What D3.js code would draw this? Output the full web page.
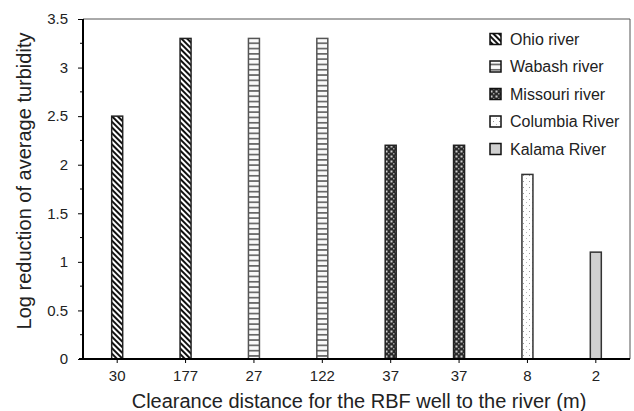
<!DOCTYPE html>
<html><head><meta charset="utf-8">
<script src="https://cdn.jsdelivr.net/npm/d3@7"></script>
<style>body{margin:0;background:#fff}svg{display:block;font-family:"Liberation Sans",Arial,sans-serif}</style>
</head><body><svg id="c" width="634" height="411"></svg>
<script>
const categories = ["30","177","27","122","37","37","8","2"];
const values = [2.5, 3.3, 3.3, 3.3, 2.2, 2.2, 1.9, 1.1];
const rivers = ["Ohio river","Ohio river","Wabash river","Wabash river","Missouri river","Missouri river","Columbia River","Kalama River"];
const legendNames = ["Ohio river","Wabash river","Missouri river","Columbia River","Kalama River"];
const yTicks = [0,0.5,1,1.5,2,2.5,3,3.5];
const yTitle = "Log reduction of average turbidity";
const xTitle = "Clearance distance for the RBF well to the river (m)";

const svg = d3.select("#c");
const m = {l:83, r:630, t:19, b:359};
const x = d3.scaleBand().domain(d3.range(categories.length)).range([m.l, m.r]);
const y = d3.scaleLinear().domain([0,3.5]).range([m.b, m.t]);

const defs = svg.append("defs");
// Ohio diagonal "\"
let p = defs.append("pattern").attr("id","p0").attr("patternUnits","userSpaceOnUse")
  .attr("width",4).attr("height",4).attr("patternTransform","rotate(-45)");
p.append("rect").attr("width",4).attr("height",4).attr("fill","#fff");
p.append("rect").attr("x",0).attr("width",2).attr("height",4).attr("fill","#111");
// Wabash horizontal
p = defs.append("pattern").attr("id","p1").attr("patternUnits","userSpaceOnUse").attr("width",6).attr("height",5.3);
p.append("rect").attr("width",6).attr("height",5.3).attr("fill","#fafafa");
p.append("rect").attr("y",0).attr("width",6).attr("height",1.7).attr("fill","#666");
// Missouri checker
p = defs.append("pattern").attr("id","p2").attr("patternUnits","userSpaceOnUse").attr("width",5).attr("height",5);
p.append("rect").attr("width",5).attr("height",5).attr("fill","#2a2a2a");
p.append("rect").attr("x",0.5).attr("y",0.5).attr("width",2).attr("height",2).attr("fill","#ccc");
p.append("rect").attr("x",3).attr("y",3).attr("width",1.5).attr("height",1.5).attr("fill","#999");
// Columbia dots
p = defs.append("pattern").attr("id","p3").attr("patternUnits","userSpaceOnUse").attr("width",6).attr("height",6);
p.append("rect").attr("width",6).attr("height",6).attr("fill","#fff");
p.append("rect").attr("x",1).attr("y",1).attr("width",1).attr("height",1).attr("fill","#999");
p.append("rect").attr("x",4).attr("y",4).attr("width",1).attr("height",1).attr("fill","#bbb");

const fills = {"Ohio river":"url(#p0)","Wabash river":"url(#p1)","Missouri river":"url(#p2)","Columbia River":"url(#p3)","Kalama River":"#d0d0d0"};
const strokes = {"Ohio river":"#222","Wabash river":"#555","Missouri river":"#222","Columbia River":"#333","Kalama River":"#333"};

// frame top/right
svg.append("line").attr("x1",m.l).attr("x2",m.r).attr("y1",m.t).attr("y2",m.t).attr("stroke","#555").attr("stroke-width",1);
svg.append("line").attr("x1",m.r).attr("x2",m.r).attr("y1",m.t).attr("y2",m.b).attr("stroke","#555").attr("stroke-width",1);

// bars
const bw = 11;
svg.selectAll("rect.bar").data(values).enter().append("rect")
  .attr("x",(d,i)=>x(i)+x.bandwidth()/2-bw/2)
  .attr("y",d=>y(d)).attr("width",bw).attr("height",d=>m.b-y(d))
  .attr("fill",(d,i)=>fills[rivers[i]]).attr("stroke",(d,i)=>strokes[rivers[i]]).attr("stroke-width",1.5);

// y axis
const ya = svg.append("g").attr("transform",`translate(${m.l},0)`)
  .call(d3.axisLeft(y).tickValues(yTicks).tickFormat(d3.format("")).tickSize(5).tickPadding(10));
ya.append("g").selectAll("line").data(d3.range(0.25,3.5,0.5)).enter().append("line")
  .attr("x1",-3).attr("x2",0).attr("y1",d=>y(d)).attr("y2",d=>y(d)).attr("stroke","#000");
ya.select(".domain").attr("stroke","#000").attr("stroke-width",2).attr("d",`M0,${m.t}V${m.b}`);
ya.selectAll("text").attr("font-size",15).attr("fill","#222").style("font-family","Liberation Sans, Arial, sans-serif");

// x axis
const xa = svg.append("g").attr("transform",`translate(0,${m.b})`)
  .call(d3.axisBottom(x).tickFormat(i=>categories[i]).tickSize(4).tickPadding(7));
xa.select(".domain").attr("stroke","#000").attr("stroke-width",2).attr("d",`M${m.l-4},0H${m.r}`);
xa.selectAll("text").attr("font-size",15).attr("fill","#222").style("font-family","Liberation Sans, Arial, sans-serif");

// titles
svg.append("text").attr("transform","translate(31,181) rotate(-90)").attr("text-anchor","middle")
  .attr("font-size",20).attr("fill","#222").text(yTitle);
svg.append("text").attr("x",359).attr("y",408).attr("text-anchor","middle")
  .attr("font-size",20).attr("fill","#222").text(xTitle);

// legend
const lg = svg.append("g");
legendNames.forEach((n,i)=>{
  const cy = 39 + i*27.5;
  lg.append("rect").attr("x",490).attr("y",cy-5.5).attr("width",11).attr("height",11)
    .attr("fill",fills[n]).attr("stroke","#111").attr("stroke-width",1.5);
  lg.append("text").attr("x",510).attr("y",cy+5.5).attr("font-size",16).attr("fill","#222").text(n);
});
</script></body></html>
